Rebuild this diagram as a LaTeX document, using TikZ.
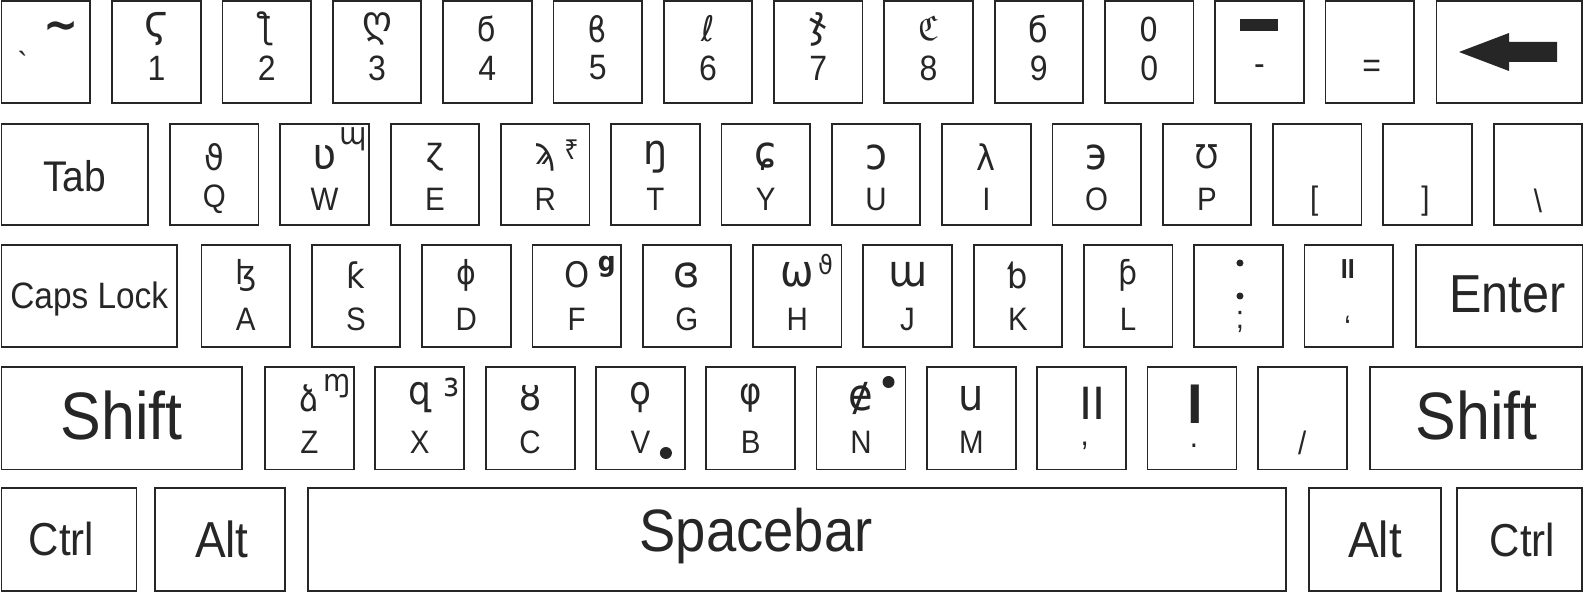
\documentclass[tikz,border=0pt]{standalone}
\usepackage{fontspec}
\usepackage{graphicx}
\setmainfont{Liberation Sans}
\newfontfamily\gl{DejaVu Sans}
\newfontfamily\rupeefont{Noto Sans}
\usetikzlibrary{calc}
\definecolor{ink}{HTML}{262626}
\newcommand{\vs}[1]{\scalebox{1}[1.1]{#1}}
\newcommand{\kk}[5]{%
  \pgfmathsetmacro\kxa{#2}\pgfmathsetmacro\kxb{#4}%
  \pgfmathsetmacro\kw{\kxb-\kxa}\pgfmathsetmacro\kh{#5-#3}%
  \node[keybox,minimum width=\kw pt,minimum height=\kh pt] (#1) at ({(\kxa+\kxb)/2},{(#3+#5)/2}) {};}
\tikzset{
  keybox/.style={draw=ink,line width=1.8pt,inner sep=0pt,outer sep=0pt,rectangle},
  ltr/.style={text=ink,inner sep=0pt,font=\fontsize{29.5}{30}\selectfont},
  dig/.style={text=ink,inner sep=0pt,font=\fontsize{32}{32}\selectfont},
  gly/.style={text=ink,inner sep=0pt},
  sup/.style={text=ink,inner sep=0pt,font=\gl\fontsize{26}{26}\selectfont},
  lbl/.style={text=ink,inner sep=0pt},
  dot/.style={circle,fill=ink,inner sep=0pt},
}
\begin{document}
\begin{tikzpicture}[x=1pt,y=-1pt]
\useasboundingbox (0,0) rectangle (1585,593);
% ---------------- row 1
\kk{ktilde}{1.5}{1}{90.3}{103}
\node[lbl,font=\gl\bfseries\fontsize{42}{42}\selectfont] (tl) at ($(ktilde.north west)+(60,30)$) {\vs{\textasciitilde}};
\node[lbl,font=\fontsize{30}{30}\selectfont] (bq) at ($(ktilde.north west)+(21,62)$) {\vs{\textasciigrave}};
\foreach \nm/\gy/\sz [count=\i from 0] in {1/ϛ/40,2/ƪ/32,3/ღ/38,4/ϭ/31,5/ϐ/32,6/ℓ/32,7/ჯ/38,8/ℭ/30,9/б/32,0/0/30}{
  \pgfmathsetmacro\xl{112.2+\i*110.3}
  \kk{d\nm}{\xl}{1}{\xl+88.5}{103}
  \node[gly,font=\gl\fontsize{\sz}{\sz}\selectfont] (gd\nm) at ($(d\nm.north)+(0,28)$) {\vs{\gy}};
  \node[dig] (ld\nm) at ($(d\nm.north)+(0,67)$) {\vs{\nm}};
}
\kk{kminus}{1215.2}{1}{1303.7}{103}
\node[rectangle,fill=ink,minimum width=38pt,minimum height=12pt,inner sep=0pt] (mbar) at ($(kminus.north)+(0,24)$) {};
\node[dig] (lminus) at ($(kminus.north)+(0,69)$) {\vs{-}};
\kk{kequal}{1325.5}{1}{1414}{103}
\node[dig] (lequal) at ($(kequal.north)+(2,68)$) {\vs{=}};
\kk{kbs}{1436.5}{1}{1582}{103}
\fill[ink] ($(kbs.north west)+(22.5,51)$) coordinate (bt) -- ($(kbs.north west)+(72.5,32)$) -- ($(kbs.north west)+(72.5,41)$) -- ($(kbs.north west)+(120.5,41)$) -- ($(kbs.north west)+(120.5,61)$) -- ($(kbs.north west)+(72.5,61)$) -- ($(kbs.north west)+(72.5,70)$) -- cycle;
% ---------------- row 2
\kk{ktab}{1.5}{124}{148}{225}
\node[lbl,font=\fontsize{39}{39}\selectfont] (ltab) at ($(ktab.center)+(0,2)$) {\vs{Tab}};
\foreach \nm/\gy/\sz [count=\i from 0] in {Q/ϑ/32,W/ʋ/40,E/ɀ/32,R/ϡ/34,T/ŋ/38,Y/ɕ/40,U/ɔ/40,I/λ/32,O/э/40,P/Ʊ/30}{
  \pgfmathsetmacro\xl{170+\i*110.3}
  \kk{k\nm}{\xl}{124}{\xl+88.5}{225}
  \node[gly,font=\gl\fontsize{\sz}{\sz}\selectfont] (g\nm) at ($(k\nm.north)+(0,33)$) {\vs{\gy}};
  \node[ltr] (l\nm) at ($(k\nm.north)+(0,75)$) {\vs{\nm}};
}
\node[sup,font=\gl\fontsize{28}{28}\selectfont] (sW) at ($(kW.north east)+(-16,15)$) {\vs{ɰ}};
\node[sup,font=\rupeefont\bfseries\fontsize{25}{25}\selectfont] (sR) at ($(kR.north east)+(-18,26)$) {\vs{₹}};
\kk{klbr}{1273}{124}{1361.5}{225}
\node[ltr] (llbr) at ($(klbr.north)+(-3,77)$) {\vs{[}};
\kk{krbr}{1383.3}{124}{1471.8}{225}
\node[ltr] (lrbr) at ($(krbr.north)+(-2,77)$) {\vs{]}};
\kk{kbsl}{1493.6}{124}{1582.1}{225}
\node[ltr] (lbsl) at ($(kbsl.north)+(0,77)$) {\vs{\textbackslash}};
% ---------------- row 3
\kk{kcaps}{1.5}{245}{177}{347}
\node[lbl,font=\fontsize{33.4}{34}\selectfont] (lcaps) at ($(kcaps.center)+(0,3)$) {\vs{Caps Lock}};
\foreach \nm/\gy/\sz [count=\i from 0] in {A/ɮ/30,S/ƙ/32,D/ɸ/30,F/Ο/32,G/ɞ/40,H/ω/40,J/ɯ/40,K/ƅ/32,L/ƥ/30}{
  \pgfmathsetmacro\xl{201.5+\i*110.3}
  \kk{k\nm}{\xl}{245}{\xl+88.5}{347}
  \node[gly,font=\gl\fontsize{\sz}{\sz}\selectfont] (g\nm) at ($(k\nm.north)+(0,30)$) {\vs{\gy}};
  \node[ltr] (l\nm) at ($(k\nm.north)+(0,74.5)$) {\vs{\nm}};
}
\node[sup,font=\gl\bfseries\fontsize{25}{25}\selectfont] (sF) at ($(kF.north east)+(-15,22)$) {\vs{ց}};
\node[sup,font=\gl\fontsize{24}{24}\selectfont] (sH) at ($(kH.north east)+(-16,20)$) {\vs{ϑ}};
\kk{ksemi}{1194.2}{245}{1282.7}{347}
\node[dot,minimum size=7pt] (sd1) at ($(ksemi.north)+(1.5,18)$) {};
\node[dot,minimum size=7pt] (sd2) at ($(ksemi.north)+(1.5,51)$) {};
\node[ltr] (lsemi) at ($(ksemi.north)+(1.5,77)$) {\vs{;}};
\kk{kquote}{1304.5}{245}{1393}{347}
\node[lbl,font=\bfseries\fontsize{25}{25}\selectfont] (gquote) at ($(kquote.north)+(-1,24)$) {\vs{II}};
\node[ltr] (lquote) at ($(kquote.north)+(-1,82)$) {\vs{‘}};
\kk{kenter}{1416}{245}{1582.5}{347}
\node[lbl,font=\fontsize{48.6}{49}\selectfont] (lenter) at ($(kenter.center)+(8,-2)$) {\vs{Enter}};
% ---------------- row 4
\kk{kshl}{1.5}{367}{242}{469.5}
\node[lbl,font=\fontsize{61}{61}\selectfont] (lshl) at ($(kshl.center)+(0,-3)$) {\vs{Shift}};
\foreach \nm/\gy/\sz [count=\i from 0] in {Z/ձ/32,X/զ/36,C/ȣ/36,V/ϙ/36,B/φ/34,N/ɇ/40,M/ս/40}{
  \pgfmathsetmacro\xl{265+\i*110.3}
  \kk{k\nm}{\xl}{367}{\xl+89}{469.5}
  \node[gly,font=\gl\fontsize{\sz}{\sz}\selectfont] (g\nm) at ($(k\nm.north)+(0,31)$) {\vs{\gy}};
  \node[ltr] (l\nm) at ($(k\nm.north)+(0,75)$) {\vs{\nm}};
}
\node[sup,font=\gl\fontsize{28}{28}\selectfont] (sZ) at ($(kZ.north east)+(-17,19)$) {\vs{ɱ}};
\node[sup,font=\gl\fontsize{30}{30}\selectfont] (sX) at ($(kX.north east)+(-13,20)$) {\vs{ɜ}};
\node[dot,minimum size=12pt] (dV) at ($(kV.north east)+(-19,86)$) {};
\node[dot,minimum size=12pt] (dN) at ($(kN.north east)+(-17,15)$) {};
\kk{kcomma}{1037.1}{367}{1126.1}{469.5}
\node[lbl,font=\fontsize{47}{47}\selectfont] (gcomma) at ($(kcomma.north)+(11,36)$) {II};
\node[ltr] (lcomma) at ($(kcomma.north)+(3,79)$) {\vs{,}};
\kk{kdot}{1147.4}{367}{1236.4}{469.5}
\node[lbl,font=\bfseries\fontsize{56}{56}\selectfont] (gdot) at ($(kdot.north)+(3,37)$) {I};
\node[ltr] (ldot) at ($(kdot.north)+(2,79)$) {\vs{.}};
\kk{kslash}{1257.7}{367}{1346.7}{469.5}
\node[ltr] (lslash) at ($(kslash.north)+(0,76)$) {\vs{/}};
\kk{kshr}{1369.6}{367}{1582}{469.5}
\node[lbl,font=\fontsize{61}{61}\selectfont] (lshr) at ($(kshr.center)+(1,-3)$) {\vs{Shift}};
% ---------------- row 5
\kk{kctl}{1.5}{488}{136.5}{591}
\node[lbl,font=\fontsize{42}{42}\selectfont] (lctl) at ($(kctl.north west)+(60,51)$) {\vs{Ctrl}};
\kk{kall}{154.7}{488}{285}{591}
\node[lbl,font=\fontsize{46}{46}\selectfont] (lall) at ($(kall.center)+(2,0)$) {\vs{Alt}};
\kk{kspace}{308}{488}{1286}{591}
\node[lbl,font=\fontsize{54.4}{55}\selectfont] (lspace) at ($(kspace.north west)+(448,48)$) {\vs{Spacebar}};
\kk{kalr}{1309}{488}{1441}{591}
\node[lbl,font=\fontsize{46}{46}\selectfont] (lalr) at ($(kalr.center)+(0,0)$) {\vs{Alt}};
\kk{kctr}{1457}{488}{1582}{591}
\node[lbl,font=\fontsize{42}{42}\selectfont] (lctr) at ($(kctr.center)+(3,0)$) {\vs{Ctrl}};
\end{tikzpicture}
\end{document}
